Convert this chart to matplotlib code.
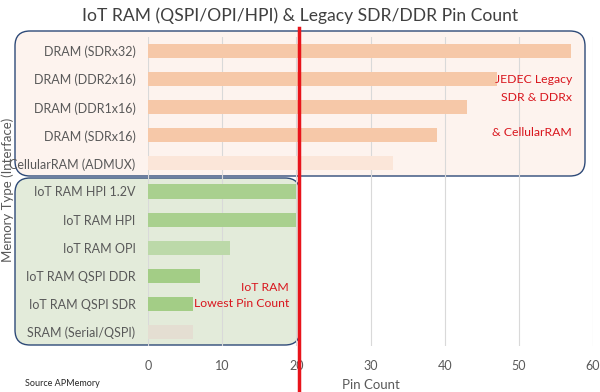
import matplotlib
matplotlib.use("Agg")
import matplotlib.pyplot as plt
from matplotlib.patches import FancyBboxPatch

plt.rcParams['font.family'] = ['Lato', 'DejaVu Sans']

# data
categories = ["DRAM (SDRx32)", "DRAM (DDR2x16)", "DRAM (DDR1x16)", "DRAM (SDRx16)",
              "CellularRAM (ADMUX)", "IoT RAM HPI 1.2V", "IoT RAM HPI", "IoT RAM OPI",
              "IoT RAM QSPI DDR", "IoT RAM QSPI SDR", "SRAM (Serial/QSPI)"]
pins = [57, 47, 43, 39, 33, 20, 20, 11, 7, 6, 6]
bar_colors = ["#F6C8A8", "#F6C8A8", "#F6C8A8", "#F6C8A8", "#FBE6D9",
              "#A9D08E", "#A9D08E", "#BCD9A9", "#A3CD86", "#A3CD86", "#E4DED2"]
xticks = [0, 10, 20, 30, 40, 50, 60]
threshold = 20.3

fig = plt.figure(figsize=(6, 3.92), dpi=100)
W, H = 600, 392

# background rounded boxes (in inches, so the rounding stays round)
top_box = FancyBboxPatch((0.15, (H - 176) / 100), 5.70, 1.45,
                         boxstyle="round,pad=0,rounding_size=0.15",
                         transform=fig.dpi_scale_trans, facecolor="#FDF3EE",
                         edgecolor="#2E4A78", linewidth=1.0, zorder=1)
bot_box = FancyBboxPatch((0.15, (H - 345) / 100), 2.85, 1.67,
                         boxstyle="round,pad=0,rounding_size=0.15",
                         transform=fig.dpi_scale_trans, facecolor="#E3EBDA",
                         edgecolor="#2E4A78", linewidth=1.0, zorder=1)
fig.patches.extend([top_box, bot_box])

ax = fig.add_axes([148 / W, 1 - 346 / H, (593 - 148) / W, (346 - 37) / H])
ax.set_zorder(2)
ax.patch.set_visible(False)

y = list(range(len(categories)))
ax.barh(y, pins, height=0.5, color=bar_colors, zorder=2)
ax.set_ylim(len(categories) - 0.5, -0.5)
ax.set_xlim(0, 60)
ax.set_xticks(xticks)
ax.set_yticks(y)
ax.set_yticklabels(categories)
ax.tick_params(axis='both', length=0, colors="#595959", labelsize=9)
ax.tick_params(axis='x', pad=10)
ax.tick_params(axis='y', pad=9)
ax.grid(axis='x', color="#D9D9D9", linewidth=0.8, zorder=0)
for s in ax.spines.values():
    s.set_visible(False)

ax.axvline(threshold, ymin=-0.15, ymax=1.03, clip_on=False, color="#E8141B",
           linewidth=2.5, zorder=5)

ax.set_xlabel("Pin Count", color="#595959", fontsize=9.5, labelpad=5)
fig.text(8 / W, 1 - 190 / H, "Memory Type (Interface)", rotation=90, ha='center',
         va='center', color="#595959", fontsize=9.5)
fig.suptitle("IoT RAM (QSPI/OPI/HPI) & Legacy SDR/DDR Pin Count", y=1 - 16 / H,
             va='center', color="#404040", fontsize=12.6)
fig.text(25 / W, 1 - 383 / H, "Source APMemory", fontsize=6.5, color="#262626",
         va='center')

red = "#D9161E"
fs = 8.8
ax.text(57.2, 1, "JEDEC Legacy", ha='right', va='center', color=red, fontsize=fs)
ax.text(57.2, 1.65, "SDR & DDRx", ha='right', va='center', color=red, fontsize=fs)
ax.text(57.2, 2.9, "& CellularRAM", ha='right', va='center', color=red, fontsize=fs)
ax.text(19, 8.4, "IoT RAM", ha='right', va='center', color=red, fontsize=fs)
ax.text(19, 9, "Lowest Pin Count", ha='right', va='center', color=red, fontsize=fs)

fig.savefig("out.png", dpi=100)
